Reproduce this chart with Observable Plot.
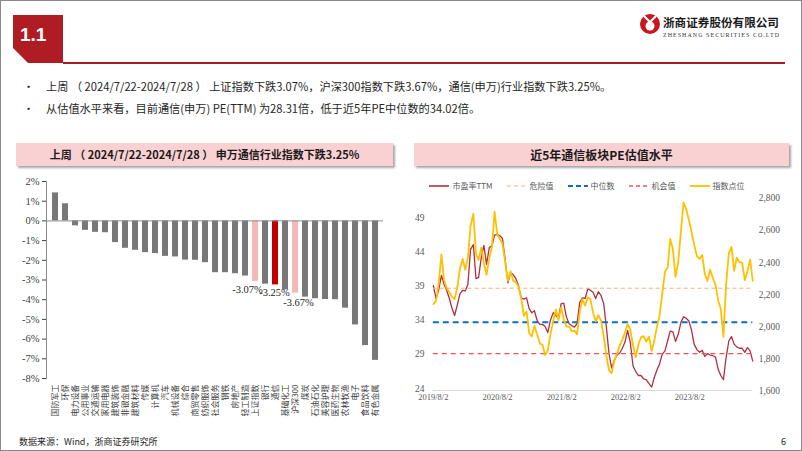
<!DOCTYPE html>
<html><head><meta charset="utf-8">
<script src="https://cdn.jsdelivr.net/npm/d3@7"></script>
<script src="https://cdn.jsdelivr.net/npm/@observablehq/plot@0.6"></script>
<style>
body{margin:0;background:#fff;}
#slide{position:relative;width:802px;height:451px;box-sizing:border-box;border:1px solid #8a8a8a;overflow:hidden;background:#fff;font-family:"Noto Sans CJK SC","Noto Sans",sans-serif;color:#262626}
.abs{position:absolute;white-space:nowrap}
.bullet{font-size:11.2px;left:22px}
.bullet span.dot{display:inline-block;width:23px}
.tbox{background:#f9d1d3;box-shadow:2px 2px 2px rgba(0,0,0,0.35);height:23px;line-height:23px;text-align:center;font-weight:bold;font-size:11px;color:#1a1a1a}
.leg{position:absolute;top:179px;left:400px;width:372px;display:flex;justify-content:center;align-items:center;gap:14px;font-size:8px;color:#595959}
.leg .it{display:flex;align-items:center;gap:3px}
</style></head><body>
<div id="slide">
  <svg class="abs" style="left:0;top:0" width="80" height="70">
    <polygon points="12,14 62,14 62,62 27,62 12,47" fill="#b01c24"/>
    <text x="19" y="40" fill="#fff" font-family="Liberation Sans, Arial" font-weight="bold" font-size="19">1.1</text>
  </svg>
  <div class="abs" style="left:62px;top:61px;width:722px;height:2px;background:#a51d23"></div>
  <svg class="abs" style="left:638px;top:10px" width="150" height="32">
    <circle cx="11" cy="13" r="10" fill="#c8161e"/>
    <circle cx="11" cy="15" r="4.5" fill="#fff"/>
    <path d="M5,5 L11,11 L17,5" stroke="#fff" stroke-width="2.2" fill="none"/>
    <text x="24" y="16" font-family="Noto Sans CJK SC" font-weight="bold" font-size="11.6" fill="#1a1a1a">浙商证券股份有限公司</text>
    <text x="24" y="26" font-family="Liberation Serif" font-size="6" fill="#333" textLength="116">ZHESHANG SECURITIES CO.LTD</text>
  </svg>
  <div class="abs bullet" style="top:77px"><span class="dot">•</span>上周 （ 2024/7/22-2024/7/28 ） 上证指数下跌3.07%，沪深300指数下跌3.67%，通信(申万)行业指数下跌3.25%。</div>
  <div class="abs bullet" style="top:99px"><span class="dot">•</span>从估值水平来看，目前通信(申万) PE(TTM) 为28.31倍，低于近5年PE中位数的34.02倍。</div>
  <div class="abs tbox" style="left:15px;top:142px;width:377px">上周 （ 2024/7/22-2024/7/28 ） 申万通信行业指数下跌3.25%</div>
  <div class="abs tbox" style="left:413px;top:142px;width:375px;font-size:12px">近5年通信板块PE估值水平</div>
  <div id="left" class="abs" style="left:0;top:170px"></div>
  <div id="legend" class="leg"></div>
  <div id="right" class="abs" style="left:400px;top:190px"></div>
  <div class="abs" style="left:18px;top:434px;font-size:9px">数据来源：Wind，浙商证券研究所</div>
  <div class="abs" style="left:780px;top:434px;font-size:9px">6</div>
</div>
<script>
// ---------- Left chart data ----------
const industries = ["国防军工","环保","电力设备","公用事业","交通运输","家用电器","建筑装饰","非银金融","建筑材料","传媒","计算机","汽车","机械设备","综合","商贸零售","纺织服饰","社会服务","钢铁","房地产","轻工制造","上证指数","银行","通信","基础化工","沪深300","煤炭","石油石化","美容护理","医药生物","农林牧渔","电子","食品饮料","有色金属"];
const weeklyChange = [1.42,0.87,-0.25,-0.48,-0.58,-0.60,-1.10,-1.39,-1.49,-1.61,-1.66,-1.80,-1.83,-1.99,-2.00,-2.12,-2.63,-2.63,-2.68,-2.80,-3.07,-3.21,-3.25,-3.50,-3.67,-3.87,-3.95,-3.99,-4.00,-4.43,-5.28,-6.33,-7.08];
const benchmarkNames = ["上证指数","沪深300"];
const focusName = "通信";
const pctTicks = [2,1,0,-1,-2,-3,-4,-5,-6,-7,-8];

// ---------- Right chart data ----------
const startDate = "2019-08-02";
const endDate = "2024-07-26";
const peTTM = [39.4,37.5,38.7,40.9,39.6,38.7,37.5,36.1,35.0,36.6,
38.2,38.7,38.6,39.6,44.7,45.4,40.4,40.6,43.5,45.3,
42.5,45.0,45.2,46.8,46.9,46.7,46.3,43.0,39.8,41.3,
41.0,40.4,39.4,37.6,37.4,37.6,36.0,35.4,35.7,34.2,
33.7,33.7,33.4,32.5,34.3,35.4,35.0,34.6,36.7,36.8,
34.8,33.8,33.5,33.3,33.8,36.9,37.6,37.5,38.9,38.7,
38.4,37.5,38.5,37.9,36.7,33.3,29.4,27.3,28.4,29.2,
29.5,30.2,31.1,32.8,31.1,27.6,26.8,26.2,26.2,25.7,
25.6,25.0,24.5,25.9,27.0,27.9,29.3,29.8,31.3,32.7,
32.6,31.2,32.2,34.0,34.8,34.6,34.2,32.9,30.8,30.0,
29.6,29.9,29.0,29.4,29.2,29.1,28.9,27.1,26.2,25.6,
28.8,31.3,31.9,30.8,30.4,30.2,30.2,29.6,30.3,29.8,
28.31];
const indexLevel = [2140,2158,2264,2451,2291,2239,2214,2185,2171,2246,
2364,2422,2355,2430,2628,2704,2451,2416,2493,2397,
2323,2430,2497,2717,2576,2547,2517,2397,2285,2345,
2285,2277,2248,2173,2067,2094,1959,1938,2003,1949,
1893,1884,1822,1849,1949,2032,2107,2040,2119,2044,
1999,1999,1970,1974,1951,2088,2171,2131,2181,2171,
2088,2032,2071,2036,1936,1816,1725,1708,1787,1833,
1882,1918,1961,2015,1984,1882,1808,1886,1932,1940,
1905,1936,1847,1911,1999,2067,2200,2343,2368,2547,
2485,2310,2399,2596,2775,2733,2667,2592,2513,2439,
2422,2447,2327,2285,2355,2302,2260,2163,2109,1935,
2260,2460,2497,2347,2430,2401,2401,2289,2347,2418,
2285];
const dangerPE = 39.0;
const medianPE = 34.02;
const chancePE = 29.4;
const peTicks = [24,29,34,39,44,49];
const indexTicks = [1600,1800,2000,2200,2400,2600,2800];
const dateTicks = ["2019-08-02","2020-08-02","2021-08-02","2022-08-02","2023-08-02"];
const legendNames = ["市盈率TTM","危险值","中位数","机会值","指数点位"];

// ---------- Left chart ----------
const bars = industries.map((name, i) => ({name, v: weeklyChange[i]}));
const barColor = d => d.name === focusName ? "#c00000" : benchmarkNames.includes(d.name) ? "#f5b8b8" : "#787878";
const serif = "Liberation Serif, Times New Roman, serif";
const pctLabel = d => d.v.toFixed(2) + "%";
const labelStyle = {x: "name", y: "v", text: pctLabel, lineAnchor: "top", fontFamily: serif, fontSize: 10.5, fill: "#262626"};
const leftChart = Plot.plot({
  width: 400, height: 250,
  marginTop: 10, marginBottom: 43, marginLeft: 45, marginRight: 18,
  style: {overflow: "visible", background: "transparent"},
  x: {domain: industries, paddingInner: 0.45, paddingOuter: 0.214, label: null},
  y: {domain: [-8, 2], label: null},
  marks: [
    Plot.barY(bars, {x: "name", y: "v", fill: barColor}),
    Plot.ruleY([0], {stroke: "#8c8c8c", strokeWidth: 1}),
    Plot.frame({anchor: "left", stroke: "#8c8c8c"}),
    Plot.axisY(pctTicks, {tickSize: 4, tickPadding: 3, tickFormat: d => d + "%", fontFamily: serif, fontSize: 10.5, color: "#404040"}),
    Plot.axisX({tickRotate: -90, tickSize: 0, tickPadding: 6, fontSize: 8, fontFamily: "Noto Sans CJK SC", color: "#404040"}),
    Plot.text(bars.filter(d => d.name === benchmarkNames[0]), {...labelStyle, dy: 4, dx: -8}),
    Plot.text(bars.filter(d => d.name === focusName), {...labelStyle, dy: 4, dx: -1}),
    Plot.text(bars.filter(d => d.name === benchmarkNames[1]), {...labelStyle, dy: 5, dx: 3})
  ]
});
document.getElementById("left").appendChild(leftChart);

// ---------- Right chart ----------
const t0 = new Date(startDate), t1 = new Date(endDate);
const totalDays = Math.round((t1 - t0) / 864e5);
const n = peTTM.length;
const series = peTTM.map((pe, i) => ({date: d3.utcDay.offset(t0, Math.round(i * totalDays / (n - 1))), pe, idx: indexLevel[i]}));
const peTop = 52.17;
const toPE = v => 24 + (v - 1600) * (peTop - 24) / 1200;
const fromPE = p => 1600 + (p - 24) * 1200 / (peTop - 24);
const fmtDate = d => `${d.getUTCFullYear()}/${d.getUTCMonth() + 1}/${d.getUTCDate()}`;

const colors = {pe: "#b0303f", danger: "#f4b183", median: "#0d6fc0", chance: "#f0505a", idx: "#ffc000"};
const rightChart = Plot.plot({
  width: 402, height: 215,
  marginTop: 7, marginBottom: 15, marginLeft: 32, marginRight: 49,
  style: {overflow: "visible", background: "transparent"},
  x: {type: "utc", domain: [t0, t1], label: null},
  y: {domain: [24, peTop], label: null},
  marks: [
    Plot.ruleY([24], {stroke: "#d9d9d9"}),
    Plot.lineY(series, {x: "date", y: "pe", stroke: colors.pe, strokeWidth: 1.3}),
    Plot.ruleY([dangerPE], {stroke: colors.danger, strokeWidth: 1, strokeDasharray: "4,3"}),
    Plot.ruleY([medianPE], {stroke: colors.median, strokeWidth: 2, strokeDasharray: "6,4"}),
    Plot.ruleY([chancePE], {stroke: colors.chance, strokeWidth: 1.3, strokeDasharray: "5,4"}),
    Plot.lineY(series, {x: "date", y: d => toPE(d.idx), stroke: colors.idx, strokeWidth: 1.8}),
    Plot.axisY(peTicks, {anchor: "left", tickSize: 0, tickPadding: 9, dy: -2, fontFamily: serif, fontSize: 9.5, color: "#595959"}),
    Plot.axisY(indexTicks.map(toPE), {anchor: "right", tickSize: 0, tickPadding: 6, tickFormat: p => d3.format(",")(Math.round(fromPE(p))), fontFamily: serif, fontSize: 9.5, color: "#595959"}),
    Plot.axisX(dateTicks.map(s => new Date(s)), {tickSize: 0, tickPadding: 4, tickFormat: fmtDate, fontFamily: serif, fontSize: 8.5, color: "#595959"})
  ]
});
document.getElementById("right").appendChild(rightChart);

// ---------- Legend ----------
const legendStyles = [
  {c: colors.pe, w: 1.6, dash: null},
  {c: colors.danger, w: 1, dash: "4,3"},
  {c: colors.median, w: 2, dash: "5,3"},
  {c: colors.chance, w: 1.4, dash: "4,3"},
  {c: colors.idx, w: 1.8, dash: null}
];
const leg = document.getElementById("legend");
legendNames.forEach((name, i) => {
  const s = legendStyles[i];
  const it = document.createElement("div");
  it.className = "it";
  it.innerHTML = `<svg width="20" height="6"><line x1="0" y1="3" x2="20" y2="3" stroke="${s.c}" stroke-width="${s.w}" ${s.dash ? `stroke-dasharray="${s.dash}"` : ""}/></svg><span>${name}</span>`;
  leg.appendChild(it);
});
</script>
</body></html>
